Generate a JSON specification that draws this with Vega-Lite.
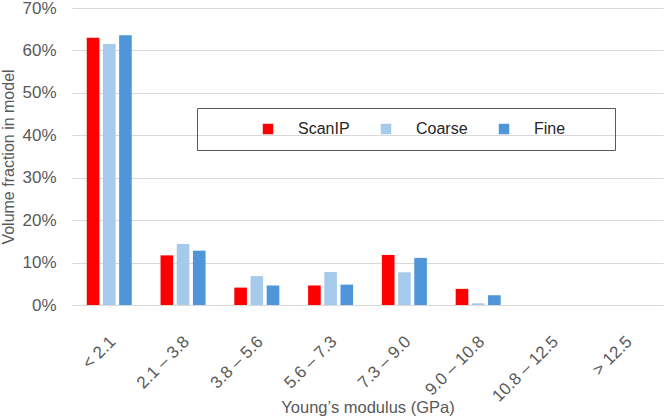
{
  "$schema": "https://vega.github.io/schema/vega-lite/v6.json",
  "autosize": {"type": "none"},
  "width": 591,
  "height": 297,
  "padding": {"left": 72, "top": 8, "right": 2, "bottom": 113},
  "background": "white",
  "config": {
    "view": {"stroke": null},
    "font": "Liberation Sans",
    "axis": {
      "labelColor": "#595959",
      "titleColor": "#595959",
      "labelFont": "Liberation Sans",
      "titleFont": "Liberation Sans",
      "labelFontSize": 16,
      "titleFontSize": 16,
      "titleFontWeight": "normal"
    }
  },
  "data": {
    "values": [
      {"range": "< 2.1", "model": "ScanIP", "fraction": 0.63},
      {"range": "< 2.1", "model": "Coarse", "fraction": 0.615},
      {"range": "< 2.1", "model": "Fine", "fraction": 0.636},
      {"range": "2.1 – 3.8", "model": "ScanIP", "fraction": 0.117},
      {"range": "2.1 – 3.8", "model": "Coarse", "fraction": 0.144},
      {"range": "2.1 – 3.8", "model": "Fine", "fraction": 0.128},
      {"range": "3.8 – 5.6", "model": "ScanIP", "fraction": 0.041},
      {"range": "3.8 – 5.6", "model": "Coarse", "fraction": 0.068},
      {"range": "3.8 – 5.6", "model": "Fine", "fraction": 0.046},
      {"range": "5.6 – 7.3", "model": "ScanIP", "fraction": 0.046},
      {"range": "5.6 – 7.3", "model": "Coarse", "fraction": 0.078},
      {"range": "5.6 – 7.3", "model": "Fine", "fraction": 0.048},
      {"range": "7.3 – 9.0", "model": "ScanIP", "fraction": 0.118},
      {"range": "7.3 – 9.0", "model": "Coarse", "fraction": 0.077},
      {"range": "7.3 – 9.0", "model": "Fine", "fraction": 0.111},
      {"range": "9.0 – 10.8", "model": "ScanIP", "fraction": 0.038},
      {"range": "9.0 – 10.8", "model": "Coarse", "fraction": 0.004},
      {"range": "9.0 – 10.8", "model": "Fine", "fraction": 0.023},
      {"range": "10.8 – 12.5", "model": "ScanIP", "fraction": 0},
      {"range": "10.8 – 12.5", "model": "Coarse", "fraction": 0},
      {"range": "10.8 – 12.5", "model": "Fine", "fraction": 0},
      {"range": "> 12.5", "model": "ScanIP", "fraction": 0},
      {"range": "> 12.5", "model": "Coarse", "fraction": 0},
      {"range": "> 12.5", "model": "Fine", "fraction": 0}
    ]
  },
  "mark": {"type": "bar"},
  "encoding": {
    "x": {
      "field": "range",
      "type": "nominal",
      "sort": null,
      "scale": {"paddingInner": 0.39, "paddingOuter": 0.2},
      "axis": {
        "title": "Young’s modulus (GPa)",
        "titleFontSize": 16.5,
        "titleBaseline": "alphabetic",
        "titleY": 107,
        "labelAngle": -45,
        "labelFontSize": 17,
        "labelPadding": 28,
        "labelOffset": -2,
        "ticks": false,
        "domain": true,
        "domainColor": "#d9d9d9"
      }
    },
    "xOffset": {
      "field": "model",
      "type": "nominal",
      "sort": ["ScanIP", "Coarse", "Fine"],
      "scale": {"paddingInner": 0.22, "paddingOuter": 0}
    },
    "y": {
      "field": "fraction",
      "type": "quantitative",
      "scale": {"domain": [0, 0.7], "nice": false},
      "axis": {
        "title": "Volume fraction in model",
        "format": ".0%",
        "values": [0, 0.1, 0.2, 0.3, 0.4, 0.5, 0.6, 0.7],
        "domain": false,
        "ticks": false,
        "labelFontSize": 17,
        "labelPadding": 16,
        "gridColor": "#d9d9d9",
        "titlePadding": 5
      }
    },
    "color": {
      "field": "model",
      "type": "nominal",
      "sort": ["ScanIP", "Coarse", "Fine"],
      "scale": {"domain": ["ScanIP", "Coarse", "Fine"], "range": ["#ff0000", "#a6caec", "#4e95d9"]},
      "legend": {
        "orient": "none",
        "direction": "horizontal",
        "legendX": 125,
        "legendY": 100,
        "title": "\u2800\u2800\u2800\u2800",
        "titleOrient": "left",
        "titleFontSize": 14,
        "titlePadding": 10,
        "labelExpr": "datum.label == 'Fine' ? 'Fine\u2800\u2800\u2800' : datum.label",
        "labelFont": "Liberation Sans",
        "labelFontSize": 16,
        "labelColor": "#262626",
        "labelOffset": 22,
        "symbolType": "square",
        "symbolSize": 110,
        "symbolStrokeWidth": 0,
        "columnPadding": 28,
        "padding": 13,
        "strokeColor": "#595959"
      }
    }
  }
}
